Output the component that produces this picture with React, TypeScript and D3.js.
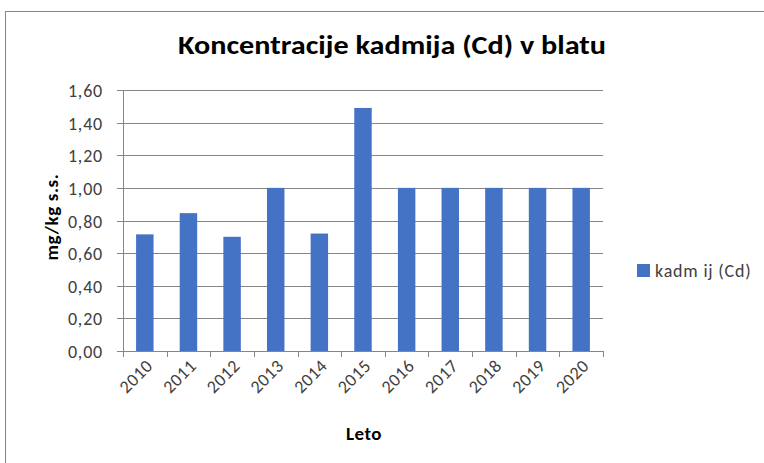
import * as d3 from 'd3';
import { useRef, useEffect } from 'react';

const years = ['2010', '2011', '2012', '2013', '2014', '2015', '2016', '2017', '2018', '2019', '2020'];
const cadmium = [0.715, 0.845, 0.7, 1.0, 0.72, 1.49, 1.0, 1.0, 1.0, 1.0, 1.0];
const yTicks = [0, 0.2, 0.4, 0.6, 0.8, 1.0, 1.2, 1.4, 1.6];
const seriesName = 'kadm ij (Cd)';

const W = 764;
const H = 463;
const FONT = "Carlito, 'Liberation Sans Narrow', 'Open Sans', 'DejaVu Sans', sans-serif";

const App = () => {
  const svgRef = useRef<SVGSVGElement>(null);

  useEffect(() => {
    const svg = d3.select(svgRef.current);
    svg.selectAll('*').remove();

    const plot = { left: 123, right: 603, top: 90, bottom: 351 };

    // chart frame
    svg
      .append('rect')
      .attr('x', 5.5)
      .attr('y', 11.5)
      .attr('width', W + 10)
      .attr('height', H + 10)
      .attr('fill', '#fff')
      .attr('stroke', '#868686');

    const x = d3.scaleBand().domain(years).range([plot.left, plot.right]).paddingInner(0.6).paddingOuter(0.3);
    const y = d3.scaleLinear().domain([0, 1.6]).range([plot.bottom, plot.top]);
    const step = (plot.right - plot.left) / years.length;

    // gridlines
    svg
      .append('g')
      .selectAll('line')
      .data(yTicks)
      .join('line')
      .attr('x1', plot.left - 6)
      .attr('x2', plot.right)
      .attr('y1', (d) => Math.round(y(d)) + 0.5)
      .attr('y2', (d) => Math.round(y(d)) + 0.5)
      .attr('stroke', '#868686')
      .attr('stroke-width', 1);

    // y tick labels
    svg
      .append('g')
      .selectAll('text')
      .data(yTicks)
      .join('text')
      .attr('x', 103)
      .attr('y', (d) => y(d) + 7)
      .attr('text-anchor', 'end')
      .attr('font-family', FONT)
      .attr('font-size', 18)
      .attr('letter-spacing', 0.8)
      .attr('fill', '#404040')
      .text((d) => d3.format('.2f')(d).replace('.', ','));

    // y axis line
    svg
      .append('line')
      .attr('x1', plot.left + 0.5)
      .attr('x2', plot.left + 0.5)
      .attr('y1', plot.top)
      .attr('y2', plot.bottom)
      .attr('stroke', '#868686');

    // x category ticks
    svg
      .append('g')
      .selectAll('line')
      .data(d3.range(years.length + 1))
      .join('line')
      .attr('x1', (i) => Math.round(plot.left + i * step) + 0.5)
      .attr('x2', (i) => Math.round(plot.left + i * step) + 0.5)
      .attr('y1', plot.bottom)
      .attr('y2', plot.bottom + 6)
      .attr('stroke', '#868686');

    // bars
    svg
      .append('g')
      .selectAll('rect')
      .data(cadmium)
      .join('rect')
      .attr('x', (d, i) => x(years[i]))
      .attr('y', (d) => y(d))
      .attr('width', x.bandwidth())
      .attr('height', (d) => plot.bottom - y(d))
      .attr('fill', '#4472c4');

    // x labels
    svg
      .append('g')
      .selectAll('text')
      .data(years)
      .join('text')
      .attr('transform', (d) => `translate(${x(d) + x.bandwidth() / 2 + 9},${plot.bottom + 16}) rotate(-45)`)
      .attr('text-anchor', 'end')
      .attr('font-family', FONT)
      .attr('font-size', 18)
      .attr('letter-spacing', 0.5)
      .attr('fill', '#404040')
      .text((d) => d);

    // title
    svg
      .append('text')
      .attr('x', 392)
      .attr('y', 54)
      .attr('text-anchor', 'middle')
      .attr('font-family', FONT)
      .attr('font-weight', 'bold')
      .attr('font-size', 27)
      .attr('fill', '#000')
      .attr('textLength', 428)
      .attr('lengthAdjust', 'spacingAndGlyphs')
      .text('Koncentracije kadmija (Cd) v blatu');

    // axis titles
    svg
      .append('text')
      .attr('x', 364)
      .attr('y', 440)
      .attr('text-anchor', 'middle')
      .attr('font-family', FONT)
      .attr('font-weight', 'bold')
      .attr('font-size', 19)
      .attr('letter-spacing', 0.5)
      .attr('fill', '#000')
      .text('Leto');

    svg
      .append('text')
      .attr('transform', `translate(58,${217}) rotate(-90)`)
      .attr('text-anchor', 'middle')
      .attr('font-family', FONT)
      .attr('font-weight', 'bold')
      .attr('font-size', 19)
      .attr('letter-spacing', 0.6)
      .attr('fill', '#000')
      .text('mg/kg s.s.');

    // legend
    svg
      .append('rect')
      .attr('x', 637)
      .attr('y', 264)
      .attr('width', 13)
      .attr('height', 13)
      .attr('fill', '#4472c4');

    svg
      .append('text')
      .attr('x', 655)
      .attr('y', 277)
      .attr('font-family', FONT)
      .attr('font-size', 18)
      .attr('letter-spacing', 0.8)
      .attr('fill', '#404040')
      .text(seriesName);
  }, []);

  return (
    <div style={{ position: 'absolute', left: 0, top: 0 }}>
      <svg ref={svgRef} width={W} height={H} style={{ display: 'block' }} />
    </div>
  );
};

export default App;
